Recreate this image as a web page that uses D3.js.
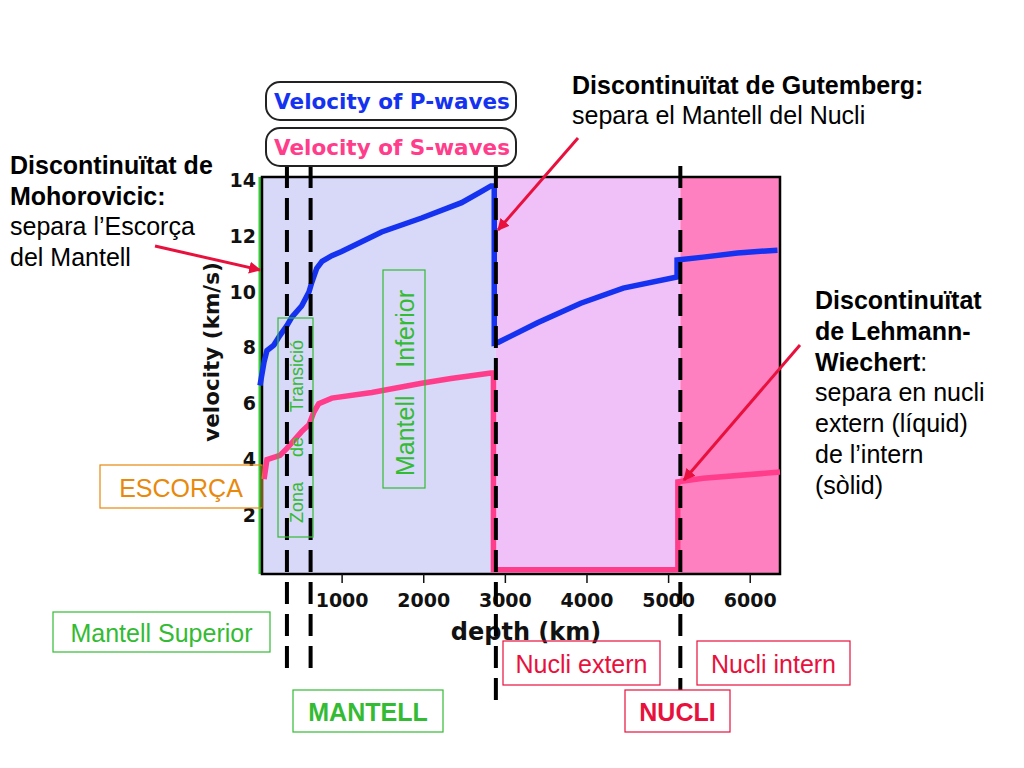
<!DOCTYPE html>
<html>
<head>
<meta charset="utf-8">
<script src="https://cdn.jsdelivr.net/npm/d3@7"></script>
<style>
  body { margin: 0; background: #fff; }
  svg { display: block; }
</style>
</head>
<body>
<div id="chart"></div>
<script>
// axis ticks
const depthTicks = [1000, 2000, 3000, 4000, 5000, 6000];
const velocityTicks = [2, 4, 6, 8, 10, 12, 14];

// P-wave velocity profile (depth km, velocity km/s)
const pDepth = [0, 50, 85, 170, 245, 330, 390, 510, 600, 635, 695, 760, 880, 1000, 1490, 1980, 2470, 2710, 2830, 2870, 2870, 2920, 3400, 3930, 4450, 5110, 5110, 5430, 5850, 6340];
const pVel   = [6.65, 7.5, 7.9, 8.1, 8.45, 8.8, 9.1, 9.5, 10.0, 10.35, 10.85, 11.1, 11.3, 11.45, 12.15, 12.65, 13.2, 13.6, 13.8, 13.8, 8.17, 8.2, 8.9, 9.6, 10.14, 10.54, 11.15, 11.25, 11.4, 11.5];

// S-wave velocity profile
const sDepth = [50, 85, 245, 330, 390, 510, 600, 660, 720, 880, 1370, 1980, 2340, 2830, 2860, 2860, 5120, 5120, 5430, 6371];
const sVel   = [3.3, 4.0, 4.15, 4.4, 4.6, 5.0, 5.25, 5.7, 6.0, 6.2, 6.4, 6.73, 6.9, 7.1, 7.1, 0.05, 0.05, 3.2, 3.33, 3.55];

// layers (depth km)
const zoneStart = [0, 2890, 5150];
const zoneEnd   = [2890, 5150, 6371];
const zoneColor = ["#d8d8f8", "#f0c0f8", "#ff80c0"];

// discontinuities drawn as dashed lines (depth km)
const dashedDepth = [330, 620, 2890, 5150];
const dashedBottom = [668, 668, 705, 690];

const W = 1024, H = 768;
const svg = d3.select("#chart").append("svg")
    .attr("width", W)
    .attr("height", H);

const x = d3.scaleLinear().domain([0, 6371]).range([260, 780]);
const y = d3.scaleLinear().domain([-0.1, 14.12]).range([574, 177]);

const axisFont = "'DejaVu Sans', sans-serif";
const textFont = "'Liberation Sans', Arial, sans-serif";

// background layers
svg.selectAll(".zone")
    .data(zoneStart)
    .enter().append("rect")
    .attr("class", "zone")
    .attr("x", function(d) { return x(d); })
    .attr("y", y.range()[1])
    .attr("width", function(d, i) { return x(zoneEnd[i]) - x(d); })
    .attr("height", y.range()[0] - y.range()[1])
    .attr("fill", function(d, i) { return zoneColor[i]; });

// crust strip
svg.append("line")
    .attr("x1", x(0)).attr("x2", x(0))
    .attr("y1", y.range()[1]).attr("y2", y.range()[0])
    .attr("stroke", "#33cc33")
    .attr("stroke-width", 3);

// frame
svg.append("rect")
    .attr("x", x(0) + 2)
    .attr("y", y.range()[1])
    .attr("width", x(6371) - x(0) - 2)
    .attr("height", y.range()[0] - y.range()[1])
    .attr("fill", "none")
    .attr("stroke", "#000")
    .attr("stroke-width", 2.5);

// x axis
const xAxis = svg.append("g")
    .attr("transform", `translate(0,${y.range()[0]})`)
    .call(d3.axisBottom(x).tickValues(depthTicks).tickSize(9).tickFormat(d3.format("d")));
xAxis.select(".domain").remove();
xAxis.selectAll(".tick line").attr("stroke", "#111").attr("stroke-width", 1.5);
xAxis.selectAll(".tick text")
    .attr("dy", "1.1em")
    .style("font-family", axisFont)
    .style("font-weight", "bold")
    .style("font-size", "19px")
    .attr("fill", "#111");

// y axis
const yAxis = svg.append("g")
    .attr("transform", `translate(${x(0)},0)`)
    .call(d3.axisLeft(y).tickValues(velocityTicks).tickSize(0).tickPadding(4));
yAxis.select(".domain").remove();
yAxis.selectAll(".tick text")
    .style("font-family", axisFont)
    .style("font-weight", "bold")
    .style("font-size", "19px")
    .attr("fill", "#111");

svg.append("text")
    .attr("transform", "translate(219,352) rotate(-90)")
    .attr("text-anchor", "middle")
    .style("font-family", axisFont)
    .style("font-weight", "bold")
    .style("font-size", "21.5px")
    .attr("fill", "#111")
    .text("velocity (km/s)");

svg.append("text")
    .attr("x", 526).attr("y", 640)
    .attr("text-anchor", "middle")
    .style("font-family", axisFont)
    .style("font-weight", "bold")
    .style("font-size", "24px")
    .attr("fill", "#111")
    .text("depth (km)");

// wave curves
const line = d3.line()
    .x(function(d) { return x(d[0]); })
    .y(function(d) { return y(d[1]); });

svg.append("path")
    .datum(sDepth.map(function(d, i) { return [d, sVel[i]]; }))
    .attr("d", line)
    .attr("fill", "none")
    .attr("stroke", "#ff3d8b")
    .attr("stroke-width", 5.5);

svg.append("path")
    .datum(pDepth.map(function(d, i) { return [d, pVel[i]]; }))
    .attr("d", line)
    .attr("fill", "none")
    .attr("stroke", "#1432f0")
    .attr("stroke-width", 5.5);

// dashed discontinuity lines
svg.selectAll(".dash")
    .data(dashedDepth)
    .enter().append("line")
    .attr("class", "dash")
    .attr("x1", function(d) { return x(d); })
    .attr("x2", function(d) { return x(d); })
    .attr("y1", 166)
    .attr("y2", function(d, i) { return dashedBottom[i]; })
    .attr("stroke", "#000")
    .attr("stroke-width", 4)
    .attr("stroke-dasharray", "22,10");

// legend boxes
const legend = [
    { label: "Velocity of P-waves", color: "#1432f0", y: 82 },
    { label: "Velocity of S-waves", color: "#ff3d8b", y: 128 }
];
legend.forEach(function(l) {
    svg.append("rect")
        .attr("x", 266).attr("y", l.y)
        .attr("width", 250).attr("height", 38)
        .attr("rx", 14)
        .attr("fill", "#fff")
        .attr("stroke", "#222")
        .attr("stroke-width", 2);
    svg.append("text")
        .attr("x", 392).attr("y", l.y + 27)
        .attr("text-anchor", "middle")
        .style("font-family", axisFont)
        .style("font-weight", "bold")
        .style("font-size", "21.5px")
        .attr("fill", l.color)
        .text(l.label);
});

// arrows
const defs = svg.append("defs");
defs.append("marker")
    .attr("id", "arrow")
    .attr("viewBox", "0 0 10 10")
    .attr("refX", 9).attr("refY", 5)
    .attr("markerWidth", 4).attr("markerHeight", 4)
    .attr("orient", "auto")
    .append("path")
    .attr("d", "M0,0 L10,5 L0,10 z")
    .attr("fill", "#e8103c");

function arrow(x1, y1, x2, y2) {
    svg.append("line")
        .attr("x1", x1).attr("y1", y1)
        .attr("x2", x2).attr("y2", y2)
        .attr("stroke", "#e8103c")
        .attr("stroke-width", 3)
        .attr("marker-end", "url(#arrow)");
}
arrow(578, 138, 498, 230);
arrow(155, 246, 260, 270);
arrow(800, 345, 684, 480);

// text blocks
function textLines(x0, y0, step, lines) {
    lines.forEach(function(l, i) {
        const t = svg.append("text")
            .attr("x", x0).attr("y", y0 + i * step)
            .style("font-family", textFont)
            .style("font-size", "25px")
            .attr("fill", "#000");
        l.forEach(function(part) {
            t.append("tspan")
                .style("font-weight", part[1] ? "bold" : "normal")
                .text(part[0]);
        });
    });
}
textLines(572, 94, 30, [
    [["Discontinuïtat de Gutemberg:", true]],
    [["separa el Mantell del Nucli", false]]
]);
textLines(10, 174, 30.5, [
    [["Discontinuïtat de", true]],
    [["Mohorovicic:", true]],
    [["separa l’Escorça", false]],
    [["del Mantell", false]]
]);
textLines(815, 309, 30.8, [
    [["Discontinuïtat", true]],
    [["de Lehmann-", true]],
    [["Wiechert", true], [":", false]],
    [["separa en nucli", false]],
    [["extern (líquid)", false]],
    [["de l’intern", false]],
    [["(sòlid)", false]]
]);

// labelled boxes
function box(x0, y0, w, h, label, color, bold, size, rotate) {
    svg.append("rect")
        .attr("x", x0).attr("y", y0)
        .attr("width", w).attr("height", h)
        .attr("fill", "none")
        .attr("stroke", color)
        .attr("stroke-width", 1.2);
    const t = svg.append("text")
        .attr("text-anchor", "middle")
        .attr("dominant-baseline", "central")
        .style("font-family", textFont)
        .style("font-weight", bold ? "bold" : "normal")
        .style("font-size", size + "px")
        .style("white-space", "pre")
        .attr("fill", color)
        .text(label);
    if (rotate) {
        t.attr("transform", `translate(${x0 + w / 2 + 1},${y0 + h / 2 + 4}) rotate(-90)`);
    } else {
        t.attr("x", x0 + w / 2).attr("y", y0 + h / 2 + 1);
    }
}
box(100, 465, 162, 43, "ESCORÇA", "#e8890c", false, 25);
box(53, 612, 217, 40, "Mantell Superior", "#33bb33", false, 25);
box(278, 318, 35, 219, "Zona     de     Transició", "#33bb33", false, 18, true);
box(383, 270, 42, 218, "Mantell    Inferior", "#33bb33", false, 25, true);
box(293, 690, 150, 42, "MANTELL", "#33bb33", true, 25);
box(503, 641, 157, 44, "Nucli extern", "#e8103c", false, 25);
box(697, 641, 153, 44, "Nucli intern", "#e8103c", false, 25);
box(625, 690, 105, 42, "NUCLI", "#e8103c", true, 25);
</script>
</body>
</html>
